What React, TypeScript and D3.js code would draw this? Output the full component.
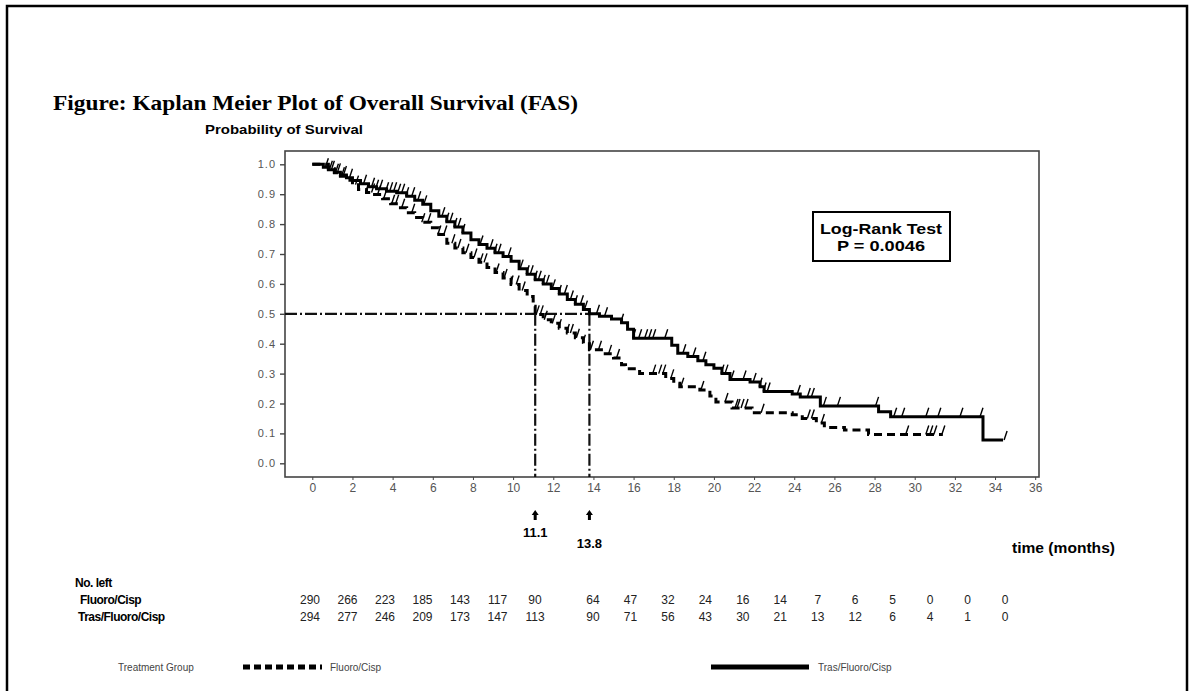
// KaplanMeier.tsx
import React, { useEffect, useRef } from 'react';
import * as d3 from 'd3';

const xTicks = [0, 2, 4, 6, 8, 10, 12, 14, 16, 18, 20, 22, 24, 26, 28, 30, 32, 34, 36];
const yTicks = [0, 0.1, 0.2, 0.3, 0.4, 0.5, 0.6, 0.7, 0.8, 0.9, 1.0];

// Fluoro/Cisp (dashed)
const fcTimes = [0, 0.8, 1.1, 1.4, 1.7, 2.0, 2.3, 2.7, 3.1, 3.5, 3.9, 4.3, 4.7, 5.1, 5.5, 5.9, 6.3, 6.7, 7.1, 7.5, 7.9, 8.3, 8.7, 9.1, 9.5, 9.9, 10.3, 10.7, 11.0, 11.1, 11.5, 11.9, 12.3, 12.7, 13.1, 13.5, 13.8, 14.5, 15.0, 15.4, 15.6, 16.3, 17.6, 18.0, 18.3, 19.3, 19.8, 20.1, 20.9, 21.9, 23.9, 24.4, 25.1, 25.5, 26.5, 27.7];
const fcSurv = [1.0, 0.985, 0.972, 0.960, 0.947, 0.932, 0.916, 0.906, 0.899, 0.885, 0.868, 0.855, 0.838, 0.822, 0.806, 0.788, 0.765, 0.736, 0.720, 0.704, 0.688, 0.672, 0.655, 0.638, 0.620, 0.598, 0.578, 0.558, 0.525, 0.498, 0.480, 0.468, 0.452, 0.436, 0.420, 0.400, 0.380, 0.366, 0.352, 0.330, 0.316, 0.300, 0.284, 0.268, 0.256, 0.245, 0.225, 0.205, 0.185, 0.169, 0.162, 0.150, 0.135, 0.120, 0.111, 0.096];
const fcEnd = 31.4;
const fcCensor = [1.2, 1.5, 2.2, 2.7, 3.0, 3.3, 3.6, 4.0, 4.2, 4.5, 5.0, 5.5, 5.8, 6.3, 6.6, 7.0, 7.3, 7.7, 8.1, 8.4, 8.6, 9.2, 9.6, 9.9, 10.2, 10.5, 11.2, 11.4, 11.6, 12.0, 12.3, 12.7, 12.9, 13.2, 13.5, 13.9, 14.3, 14.8, 15.2, 17.0, 17.3, 17.5, 17.9, 18.4, 19.4, 20.6, 21.1, 21.2, 21.4, 21.6, 22.4, 24.7, 24.9, 25.4, 29.6, 30.6, 30.8, 31.0, 31.4];

// Tras/Fluoro/Cisp (solid)
const tfcTimes = [0, 0.55, 0.8, 1.1, 1.4, 1.7, 2.0, 2.4, 2.8, 3.2, 3.7, 4.2, 4.7, 5.1, 5.5, 5.9, 6.3, 6.7, 7.1, 7.5, 7.9, 8.3, 8.7, 9.1, 9.5, 9.9, 10.3, 10.7, 11.1, 11.5, 11.9, 12.3, 12.7, 13.1, 13.5, 13.8, 14.3, 14.9, 15.4, 15.7, 16.0, 17.9, 18.2, 18.7, 19.2, 19.6, 20.0, 20.4, 20.8, 21.8, 22.3, 22.5, 23.9, 24.3, 25.3, 28.2, 28.8, 33.4];
const tfcSurv = [1.0, 0.990, 0.982, 0.973, 0.964, 0.955, 0.946, 0.935, 0.925, 0.918, 0.910, 0.905, 0.893, 0.880, 0.866, 0.845, 0.826, 0.808, 0.790, 0.770, 0.748, 0.732, 0.719, 0.704, 0.692, 0.676, 0.651, 0.632, 0.614, 0.600, 0.585, 0.566, 0.548, 0.532, 0.514, 0.500, 0.492, 0.483, 0.470, 0.448, 0.418, 0.395, 0.368, 0.357, 0.343, 0.330, 0.318, 0.300, 0.280, 0.272, 0.256, 0.240, 0.232, 0.222, 0.192, 0.172, 0.156, 0.078];
const tfcEnd = 34.4;
const tfcCensor = [0.7, 0.9, 1.0, 1.3, 1.6, 1.9, 2.6, 3.0, 3.2, 3.4, 3.7, 3.9, 4.1, 4.3, 4.5, 4.7, 5.0, 5.3, 5.6, 6.5, 6.7, 6.9, 7.1, 7.3, 7.5, 8.4, 8.9, 9.1, 9.3, 9.8, 10.4, 10.7, 10.9, 11.1, 11.3, 11.5, 11.7, 12.0, 12.3, 12.6, 12.9, 13.1, 13.4, 13.6, 14.2, 14.6, 15.4, 16.0, 16.3, 16.6, 16.8, 17.0, 17.6, 18.5, 19.0, 19.5, 20.4, 20.6, 20.9, 21.5, 22.0, 22.3, 22.5, 22.7, 24.2, 24.7, 24.9, 25.5, 26.2, 28.1, 29.0, 29.4, 30.6, 31.2, 32.3, 33.3, 34.5];

const medianFC = 11.1;
const medianTFC = 13.8;

const riskFC = [290, 266, 223, 185, 143, 117, 90, 64, 47, 32, 24, 16, 14, 7, 6, 5, 0, 0, 0];
const riskTFC = [294, 277, 246, 209, 173, 147, 113, 90, 71, 56, 43, 30, 21, 13, 12, 6, 4, 1, 0];

const survAt = (times: number[], surv: number[], t: number) => {
  let i = d3.bisectRight(times, t) - 1;
  if (i < 0) i = 0;
  return surv[i];
};

const App: React.FC = () => {
  const svgRef = useRef<SVGSVGElement>(null);

  useEffect(() => {
    if (!svgRef.current) return;
    const svg = d3.select(svgRef.current);
    svg.selectAll('*').remove();

    const x = d3.scaleLinear().domain([0, 36]).range([312.3, 1035.2]);
    const y = d3.scaleLinear().domain([0, 1]).range([463.3, 164.3]);
    // the risk table columns in the source are not spaced like the axis
    const xRisk = d3.scaleLinear().domain([0, 12, 14, 36]).range([310, 535, 593, 1005]);
    const left = 285, right = 1039, top = 151, bottom = 477;

    // page frame
    svg.append('rect').attr('x', 7).attr('y', 6).attr('width', 1180).attr('height', 720)
      .attr('fill', 'none').attr('stroke', '#000').attr('stroke-width', 2.5);

    svg.append('text').attr('x', 53).attr('y', 110)
      .attr('font-family', 'Liberation Serif, Times New Roman, serif').attr('font-weight', 'bold')
      .attr('font-size', 21).attr('textLength', 525).attr('lengthAdjust', 'spacingAndGlyphs')
      .text('Figure: Kaplan Meier Plot of Overall Survival (FAS)');

    svg.append('text').attr('x', 205).attr('y', 134)
      .attr('font-family', 'Liberation Sans, Arial, sans-serif').attr('font-weight', 'bold')
      .attr('font-size', 12).attr('textLength', 158).attr('lengthAdjust', 'spacingAndGlyphs')
      .text('Probability of Survival');

    // plot box
    svg.append('rect').attr('x', left).attr('y', top).attr('width', right - left).attr('height', bottom - top)
      .attr('fill', 'none').attr('stroke', '#444').attr('stroke-width', 1.6);

    // y axis ticks
    const yAxis = svg.append('g').attr('transform', `translate(${left},0)`)
      .call(d3.axisLeft(y).tickValues(yTicks).tickSize(5).tickFormat(d3.format('.1f')));
    yAxis.select('.domain').remove();
    yAxis.selectAll('line').attr('stroke', '#444').attr('stroke-width', 1.4);
    yAxis.selectAll('text').attr('font-family', 'Liberation Sans, Arial, sans-serif')
      .attr('font-size', 11).attr('fill', '#555').attr('letter-spacing', 1).attr('x', -9);

    // x axis ticks
    const xAxis = svg.append('g').attr('transform', `translate(0,${bottom})`)
      .call(d3.axisBottom(x).tickValues(xTicks).tickSize(3).tickFormat(d3.format('d')));
    xAxis.select('.domain').remove();
    xAxis.selectAll('line').attr('stroke', '#444');
    xAxis.selectAll('text').attr('font-family', 'Liberation Sans, Arial, sans-serif')
      .attr('font-size', 12).attr('fill', '#555').attr('y', 6);

    // median reference lines
    const med = svg.append('g').attr('stroke', '#111').attr('stroke-width', 2.2)
      .attr('stroke-dasharray', '12,3,2,3').attr('fill', 'none');
    med.append('line').attr('x1', left).attr('x2', x(medianTFC)).attr('y1', y(0.5)).attr('y2', y(0.5));
    med.append('line').attr('x1', x(medianFC)).attr('x2', x(medianFC)).attr('y1', y(0.5)).attr('y2', bottom);
    med.append('line').attr('x1', x(medianTFC)).attr('x2', x(medianTFC)).attr('y1', y(0.5)).attr('y2', bottom);

    const line = d3.line<[number, number]>().x(d => x(d[0])).y(d => y(d[1])).curve(d3.curveStepAfter);

    const drawCurve = (times: number[], surv: number[], end: number, censor: number[], dash: string | null) => {
      const pts: [number, number][] = times.map((t, i) => [t, surv[i]]);
      pts.push([end, surv[surv.length - 1]]);
      svg.append('path').datum(pts).attr('fill', 'none').attr('stroke', '#000')
        .attr('stroke-width', 3).attr('stroke-dasharray', dash).attr('d', line);
      svg.append('g').selectAll('path').data(censor).join('path')
        .attr('d', c => {
          const cx = x(c), cy = y(survAt(times, surv, c));
          return `M${cx - 1},${cy} L${cx + 2},${cy - 9}`;
        })
        .attr('stroke', '#000').attr('stroke-width', 1.4).attr('fill', 'none');
    };
    drawCurve(fcTimes, fcSurv, fcEnd, fcCensor, '8,5');
    drawCurve(tfcTimes, tfcSurv, tfcEnd, tfcCensor, null);

    // log-rank box
    svg.append('rect').attr('x', 813).attr('y', 212).attr('width', 137).attr('height', 49)
      .attr('fill', '#fff').attr('stroke', '#000').attr('stroke-width', 2);
    svg.append('text').attr('x', 881).attr('y', 234).attr('text-anchor', 'middle')
      .attr('font-family', 'Liberation Sans, Arial, sans-serif').attr('font-weight', 'bold')
      .attr('font-size', 15).attr('textLength', 122).attr('lengthAdjust', 'spacingAndGlyphs')
      .text('Log-Rank Test');
    svg.append('text').attr('x', 881).attr('y', 251).attr('text-anchor', 'middle')
      .attr('font-family', 'Liberation Sans, Arial, sans-serif').attr('font-weight', 'bold')
      .attr('font-size', 15).attr('textLength', 88).attr('lengthAdjust', 'spacingAndGlyphs')
      .text('P = 0.0046');

    // median arrows and labels
    [[medianFC, 537], [medianTFC, 548]].forEach(([m, ly]) => {
      const mx = x(m);
      svg.append('path').attr('d', `M${mx},510 L${mx + 3.5},515 L${mx + 1.5},515 L${mx + 1.5},520 L${mx - 1.5},520 L${mx - 1.5},515 L${mx - 3.5},515 Z`)
        .attr('fill', '#000');
      svg.append('text').attr('x', mx).attr('y', ly).attr('text-anchor', 'middle')
        .attr('font-family', 'Liberation Sans, Arial, sans-serif').attr('font-weight', 'bold')
        .attr('font-size', 13).text(m.toFixed(1));
    });

    svg.append('text').attr('x', 1012).attr('y', 553)
      .attr('font-family', 'Liberation Sans, Arial, sans-serif').attr('font-weight', 'bold')
      .attr('font-size', 14).attr('textLength', 103).attr('lengthAdjust', 'spacingAndGlyphs')
      .text('time (months)');

    // numbers at risk
    const lbl = (tx: string, lx: number, ly: number) =>
      svg.append('text').attr('x', lx).attr('y', ly)
        .attr('font-family', 'Liberation Sans, Arial, sans-serif').attr('font-weight', 'bold')
        .attr('font-size', 12).attr('letter-spacing', -0.5).text(tx);
    lbl('No. left', 75, 587);
    lbl('Fluoro/Cisp', 80, 604);
    lbl('Tras/Fluoro/Cisp', 78, 621);

    const rows: [number[], number][] = [[riskFC, 604], [riskTFC, 621]];
    rows.forEach(([vals, ry]) => {
      svg.append('g').selectAll('text').data(vals).join('text')
        .attr('x', (_, i) => xRisk(xTicks[i])).attr('y', ry).attr('text-anchor', 'middle')
        .attr('font-family', 'Liberation Sans, Arial, sans-serif').attr('font-size', 12)
        .attr('fill', '#222').text(d => d);
    });

    // legend
    const lg = svg.append('g').attr('font-family', 'Liberation Sans, Arial, sans-serif')
      .attr('font-size', 10).attr('fill', '#444');
    lg.append('text').attr('x', 118).attr('y', 671).text('Treatment Group');
    svg.append('line').attr('x1', 243).attr('x2', 322).attr('y1', 667).attr('y2', 667)
      .attr('stroke', '#000').attr('stroke-width', 5).attr('stroke-dasharray', '7,4');
    lg.append('text').attr('x', 330).attr('y', 671).text('Fluoro/Cisp');
    svg.append('line').attr('x1', 711).attr('x2', 809).attr('y1', 667).attr('y2', 667)
      .attr('stroke', '#000').attr('stroke-width', 5);
    lg.append('text').attr('x', 818).attr('y', 671).text('Tras/Fluoro/Cisp');
  }, []);

  return <svg ref={svgRef} width={1189} height={691}
    style={{ position: 'absolute', left: 0, top: 0, background: '#fff' }} />;
};

export default App;
